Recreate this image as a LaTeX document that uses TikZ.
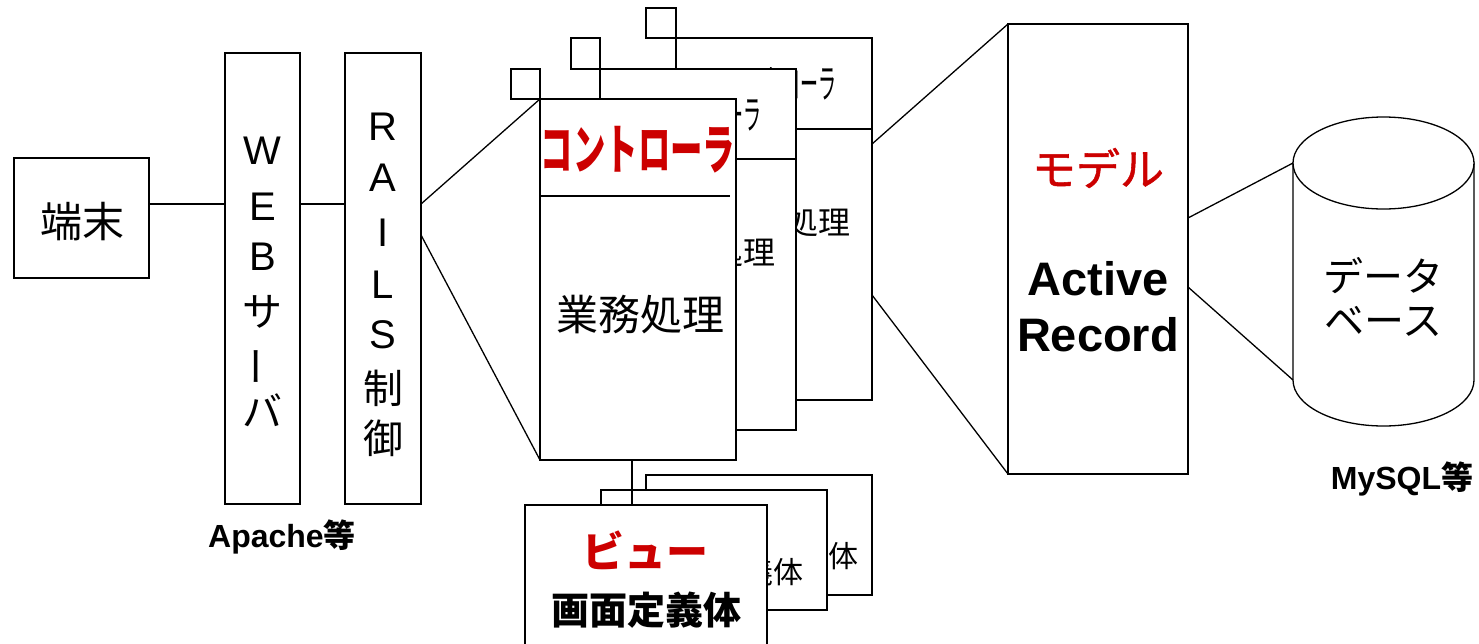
\documentclass[tikz,border=0pt]{standalone}
\usepackage{fontspec}
\setmainfont{Liberation Sans}
\newfontfamily\jp{Noto Sans CJK JP}
\newfontfamily\jpm{Noto Sans CJK JP}[FakeBold=1.2]
\usetikzlibrary{calc}
\definecolor{cred}{RGB}{204,0,0}
\newcommand\setfs[1]{\fontsize{#1}{#1}\selectfont}
\begin{document}
\begin{tikzpicture}[x=1pt,y=-1pt,line width=1.3pt,
  box/.style={draw=black,fill=white,inner sep=0pt,outer sep=0pt,line width=1.3pt},
  txt/.style={inner sep=0pt,outer sep=0pt,anchor=center},
  conn/.style={draw=black,line width=1.3pt}]
\useasboundingbox (0,0) rectangle (1479,643);
\fill[white] (0,0) rectangle (1479,643);

% terminal
\node[box,minimum width=135pt,minimum height=120pt] (term) at (81.5,218) {};
\node[txt,font=\jp\setfs{42}] (termT) at (82,222) {端末};

% web server
\node[box,minimum width=75pt,minimum height=451pt] (web) at (262.5,278.5) {};
\node[txt,font=\setfs{40}] (w1) at (262.5,151) {W};
\node[txt,font=\setfs{40}] (w2) at (262.5,207) {E};
\node[txt,font=\setfs{40}] (w3) at (262.5,257) {B};
\node[txt,font=\jp\setfs{40}] (w4) at (262.5,312) {サ};
\node[txt,font=\jp\setfs{40}] (w5) at (262.5,366) {\rotatebox[origin=c]{90}{ー}};
\node[txt,font=\jp\setfs{40}] (w6) at (262.5,410) {バ};
\node[txt,font=\setfs{32}\bfseries] (apache) at (282,537) {Apache{\jp 等}};

% rails
\node[box,minimum width=76pt,minimum height=451pt] (rails) at (383,278.5) {};
\node[txt,font=\setfs{40}] (r1) at (383,127) {R};
\node[txt,font=\setfs{40}] (r2) at (383,178) {A};
\node[txt,font=\setfs{40}] (r3) at (383,233) {I};
\node[txt,font=\setfs{40}] (r4) at (383,285) {L};
\node[txt,font=\setfs{40}] (r5) at (383,335) {S};
\node[txt,font=\jp\setfs{40}] (r6) at (383,388) {制};
\node[txt,font=\jp\setfs{40}] (r7) at (383,438) {御};

% controller back
\node[box,minimum width=30pt,minimum height=30pt] (cBsq) at (661,23) {};
\node[box,minimum width=196pt,minimum height=362pt] (cB) at (774,219) {};
\draw (676,129) -- (872,129);
\node[txt,anchor=east,font=\jp\setfs{40}] (cBt1) at (836,84) {\scalebox{0.45}[1]{コントローラ}};
\node[txt,anchor=east,font=\jp\setfs{32}] (cBt2) at (850,222) {業務処理};

% controller middle
\node[box,minimum width=29pt,minimum height=31pt] (cMsq) at (585.5,53.5) {};
\node[box,minimum width=196pt,minimum height=361pt] (cM) at (698,249.5) {};
\draw (600,159) -- (796,159);
\node[txt,anchor=east,font=\jp\setfs{40}] (cMt1) at (761,115) {\scalebox{0.45}[1]{コントローラ}};
\node[txt,anchor=east,font=\jp\setfs{32}] (cMt2) at (775,252) {業務処理};

% controller front
\node[box,minimum width=29pt,minimum height=30pt] (cFsq) at (525.5,84) {};
\node[box,minimum width=196pt,minimum height=361pt] (cF) at (638,279.5) {};
\draw (540,196) -- (730,196);
\node[txt,text=cred,font=\jp\setfs{54}\bfseries] (cFt1) at (638,150) {\scalebox{0.6}[1]{コントローラ}};
\node[txt,font=\jp\setfs{42}] (cFt2) at (640,315) {業務処理};

% model
\node[box,minimum width=180pt,minimum height=450pt] (model) at (1098,249) {};
\node[txt,text=cred,font=\jpm\setfs{44}] (modelT) at (1098,168) {モデル};
\node[txt,font=\setfs{47}\bfseries] (ar1) at (1098,279) {Active};
\node[txt,font=\setfs{47}\bfseries] (ar2) at (1098,335) {Record};

% database
\coordinate (db1) at (1293,163);
\coordinate (db2) at (1293,380);
\draw[fill=white] (db1) -- (db2) arc[start angle=180,end angle=0,x radius=90.5,y radius=46] -- (1474,163) -- cycle;
\draw[fill=white] (1383.5,163) ellipse[x radius=90.5,y radius=46];
\node[txt,font=\jp\setfs{40}] (db1T) at (1383,276) {データ};
\node[txt,font=\jp\setfs{40}] (db2T) at (1383,321) {ベース};
\node[txt,font=\setfs{32}\bfseries] (mysql) at (1402,479) {MySQL{\jp 等}};

% views
\node[box,minimum width=226pt,minimum height=120pt] (vB) at (759,535) {};
\node[txt,anchor=east,font=\jp\setfs{30}] (vBt) at (858,556) {画面定義体};
\node[box,minimum width=226pt,minimum height=120pt] (vM) at (714,550) {};
\node[txt,anchor=east,font=\jp\setfs{30}] (vMt) at (803,572) {画面定義体};
\node[box,minimum width=242pt,minimum height=175pt] (vF) at (646,592.5) {};
\node[txt,text=cred,font=\jp\setfs{42}\bfseries] (vFt1) at (645,550) {ビュー};
\node[txt,font=\jp\setfs{38}\bfseries] (vFt2) at (646,610) {画面定義体};

% connectors
\coordinate (h1) at (0,204);
\coordinate (h2) at (0,235);
\coordinate (h3) at (0,144);
\coordinate (h4) at (0,295);
\coordinate (h5) at (0,218);
\coordinate (h6) at (0,287);
\coordinate (v1) at (632,0);
\draw[conn] (term.east |- h1) -- (web.west |- h1);
\draw[conn] (web.east |- h1) -- (rails.west |- h1);
\draw[conn] (rails.east |- h1) -- (cF.north west);
\draw[conn] (rails.east |- h2) -- (cF.south west);
\draw[conn] (cB.east |- h3) -- (model.north west);
\draw[conn] (cB.east |- h4) -- (model.south west);
\draw[conn] (model.east |- h5) -- (db1);
\draw[conn] (model.east |- h6) -- (db2);
\draw[conn] (v1 |- cF.south) -- (v1 |- vF.north);
\end{tikzpicture}
\end{document}
